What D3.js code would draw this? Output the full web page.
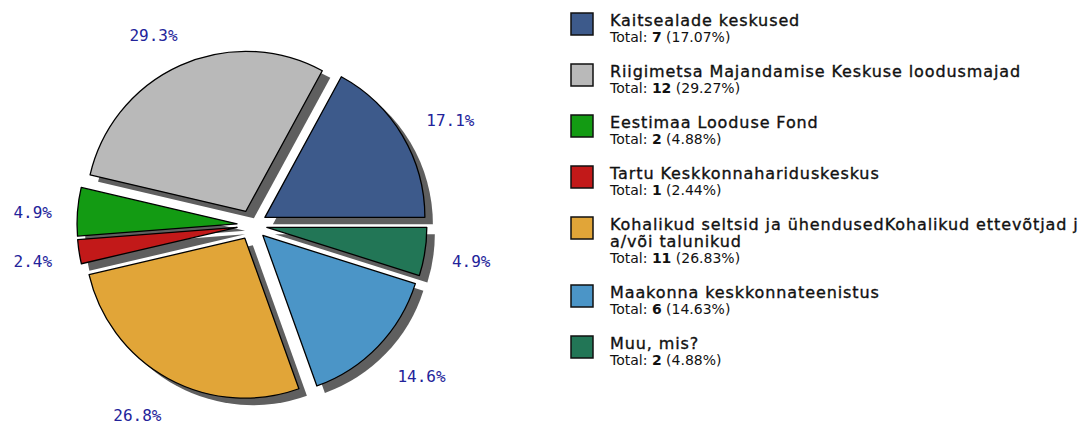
<!DOCTYPE html>
<html>
<head>
<meta charset="utf-8">
<script src="https://cdn.jsdelivr.net/npm/d3@7"></script>
<style>
  body { margin: 0; background: #fff; }
  svg { display: block; }
</style>
</head>
<body>
<svg id="chart" width="1091" height="421"></svg>
<script>
var categories = [
  "Kaitsealade keskused",
  "Riigimetsa Majandamise Keskuse loodusmajad",
  "Eestimaa Looduse Fond",
  "Tartu Keskkonnahariduskeskus",
  "Kohalikud seltsid ja ühendusedKohalikud ettevõtjad j\na/või talunikud",
  "Maakonna keskkonnateenistus",
  "Muu, mis?"
];
var counts = [7, 12, 2, 1, 11, 6, 2];
var colors = ["#3d5a8b", "#b9b9b9", "#139b13", "#c21919", "#e1a538", "#4b95c7", "#227656"];

var total = d3.sum(counts);
var data = counts.map(function(v, i){
  return { name: categories[i], value: v, color: colors[i] };
});

var svg = d3.select('#chart');

var cx = 252, cy = 225, r = 160, explode = 15;

// start at 3 o'clock, go counter clockwise
var pie = d3.pie()
  .sort(null)
  .value(function(d){ return d.value })
  .startAngle(Math.PI / 2)
  .endAngle(Math.PI / 2 - 2 * Math.PI);

var arcs = pie(data);
var arc = d3.arc().innerRadius(0).outerRadius(r);

function mid(d){ return (d.startAngle + d.endAngle) / 2 }

function shift(d){
  var m = mid(d);
  return [Math.sin(m) * explode, -Math.cos(m) * explode];
}

// label sits outside the rim, pushed away by the text box
function labelPos(d){
  var m = mid(d);
  var sx = Math.sin(m), cy_ = -Math.cos(m);
  var rx = 218 + 25 * Math.abs(cy_);
  return [rx * sx, 212 * cy_ + 4];
}

var g = svg.append('g').attr('transform', 'translate(' + cx + ',' + cy + ')');

g.selectAll('path.shadow')
  .data(arcs)
  .enter()
  .append('path')
  .attr('class', 'shadow')
  .attr('d', arc)
  .attr('fill', '#5f5f5f')
  .attr('transform', function(d){ var s = shift(d); return 'translate(' + (s[0] + 8) + ',' + (s[1] + 7) + ')' });

g.selectAll('path.slice')
  .data(arcs)
  .enter()
  .append('path')
  .attr('class', 'slice')
  .attr('d', arc)
  .attr('fill', function(d){ return d.data.color })
  .attr('stroke', '#000')
  .attr('stroke-width', 1.3)
  .attr('stroke-linejoin', 'round')
  .attr('transform', function(d){ var s = shift(d); return 'translate(' + s[0] + ',' + s[1] + ')' });

g.selectAll('text.pct')
  .data(arcs)
  .enter()
  .append('text')
  .attr('class', 'pct')
  .attr('x', function(d){ return labelPos(d)[0] })
  .attr('y', function(d){ return labelPos(d)[1] })
  .attr('text-anchor', 'middle')
  .attr('dominant-baseline', 'central')
  .style('font-family', 'DejaVu Sans Mono, monospace')
  .style('font-size', '16px')
  .style('fill', '#23239a')
  .text(function(d){ return (d.data.value / total * 100).toFixed(1) + '%' });

// legend
var legend = svg.append('g');
var yPos = 13;
data.forEach(function(d){
  var lines = d.name.split('\n');
  var item = legend.append('g').attr('transform', 'translate(0,' + yPos + ')');
  item.append('rect')
    .attr('x', 571).attr('y', 0)
    .attr('width', 22).attr('height', 22)
    .attr('fill', d.color)
    .attr('stroke', '#111')
    .attr('stroke-width', 1.5);
  lines.forEach(function(l, j){
    item.append('text')
      .attr('x', 610).attr('y', 13 + j * 17)
      .style('font-family', 'DejaVu Sans, sans-serif')
      .style('font-size', '16px')
      .style('letter-spacing', '0.9px')
      .style('fill', '#111')
      .style('stroke', '#111')
      .style('stroke-width', 0.35)
      .text(l);
  });
  var t = item.append('text')
    .attr('x', 610).attr('y', 13 + lines.length * 17 - 1)
    .style('font-family', 'DejaVu Sans, sans-serif')
    .style('font-size', '14px')
    .style('fill', '#111');
  t.append('tspan').text('Total: ');
  t.append('tspan').style('font-weight', 'bold').text(d.value);
  t.append('tspan').text(' (' + (d.value / total * 100).toFixed(2) + '%)');
  yPos += 51 + (lines.length - 1) * 17;
});
</script>
</body>
</html>
